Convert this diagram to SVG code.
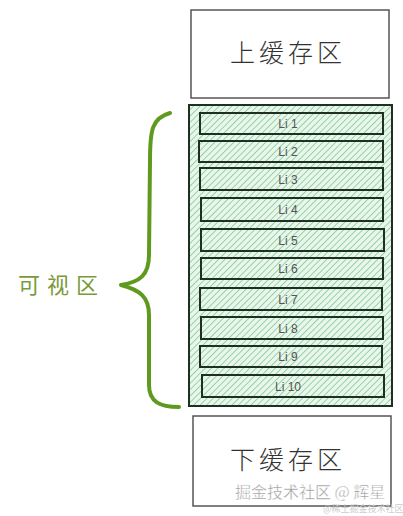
<svg xmlns="http://www.w3.org/2000/svg" width="403" height="516" viewBox="0 0 403 516">
<defs>
<pattern id="hatch" width="4.5" height="4.5" patternUnits="userSpaceOnUse" patternTransform="rotate(45)">
<rect width="4.5" height="4.5" fill="#e8f6eb"/>
<line x1="0" y1="0" x2="0" y2="4.5" stroke="#7fc890" stroke-width="1.5"/>
</pattern>
<style>
.cache{fill:#fff;stroke:#555;stroke-width:1.5}
.cap{font-family:"Noto Sans CJK SC","Noto Sans",sans-serif;font-size:25px;font-weight:300;fill:#333;text-anchor:middle;letter-spacing:4px}
.li rect{fill:url(#hatch);stroke:#1f2f22;stroke-width:2}
.li text{font-family:"Liberation Sans",sans-serif;font-size:12px;fill:#555;text-anchor:middle}
</style>
</defs>
<rect width="403" height="516" fill="#fff"/>
<g id="top-cache">
<rect class="cache" x="191" y="10" width="198" height="88"/>
<text class="cap" x="288" y="62">上缓存区</text>
</g>
<g id="visible">
<rect x="189" y="105" width="203" height="301" fill="url(#hatch)" stroke="#1f2f22" stroke-width="2"/>
</g>
<g id="li1" class="li"><rect x="200" y="113" width="183" height="21"/><text x="288" y="128">Li 1</text></g>
<g id="li2" class="li"><rect x="199" y="141" width="184" height="21"/><text x="288" y="156">Li 2</text></g>
<g id="li3" class="li"><rect x="200" y="168" width="183" height="22"/><text x="288" y="184">Li 3</text></g>
<g id="li4" class="li"><rect x="201" y="198" width="182" height="23"/><text x="288" y="214">Li 4</text></g>
<g id="li5" class="li"><rect x="201" y="229" width="183" height="22"/><text x="288" y="245">Li 5</text></g>
<g id="li6" class="li"><rect x="201" y="258" width="182" height="21"/><text x="288" y="273">Li 6</text></g>
<g id="li7" class="li"><rect x="200" y="288" width="182" height="22"/><text x="288" y="304">Li 7</text></g>
<g id="li8" class="li"><rect x="201" y="317" width="182" height="22"/><text x="288" y="333">Li 8</text></g>
<g id="li9" class="li"><rect x="200" y="346" width="182" height="21"/><text x="288" y="361">Li 9</text></g>
<g id="li10" class="li"><rect x="202" y="375" width="182" height="22"/><text x="288" y="391">Li 10</text></g>
<g id="bottom-cache">
<rect class="cache" x="193" y="416" width="198" height="90"/>
<text class="cap" x="288" y="469">下缓存区</text>
</g>
<g id="connectors">
<path d="M170 113 C152 118 150 130 150 160 L149 255 C149 275 140 282 121 285 C140 290 149 297 149 315 L149 385 C149 402 160 407 179 407" fill="none" stroke="#5f9a1f" stroke-width="4" stroke-linecap="round" stroke-linejoin="round"/>
</g>
<g id="label">
<text x="18" y="293" font-family="'Noto Sans CJK SC','Noto Sans',sans-serif" font-size="22" fill="#7a9a3a" letter-spacing="7">可视区</text>
</g>
<g id="watermark">
<text x="235" y="498" font-family="'Noto Sans CJK SC',sans-serif" font-size="16" fill="#999" stroke="#fff" stroke-width="0.4">掘金技术社区 @ 辉星</text>
<text x="323" y="512" font-family="'Noto Sans CJK SC',sans-serif" font-size="9" fill="#ccc">@稀土掘金技术社区</text>
</g>
</svg>
